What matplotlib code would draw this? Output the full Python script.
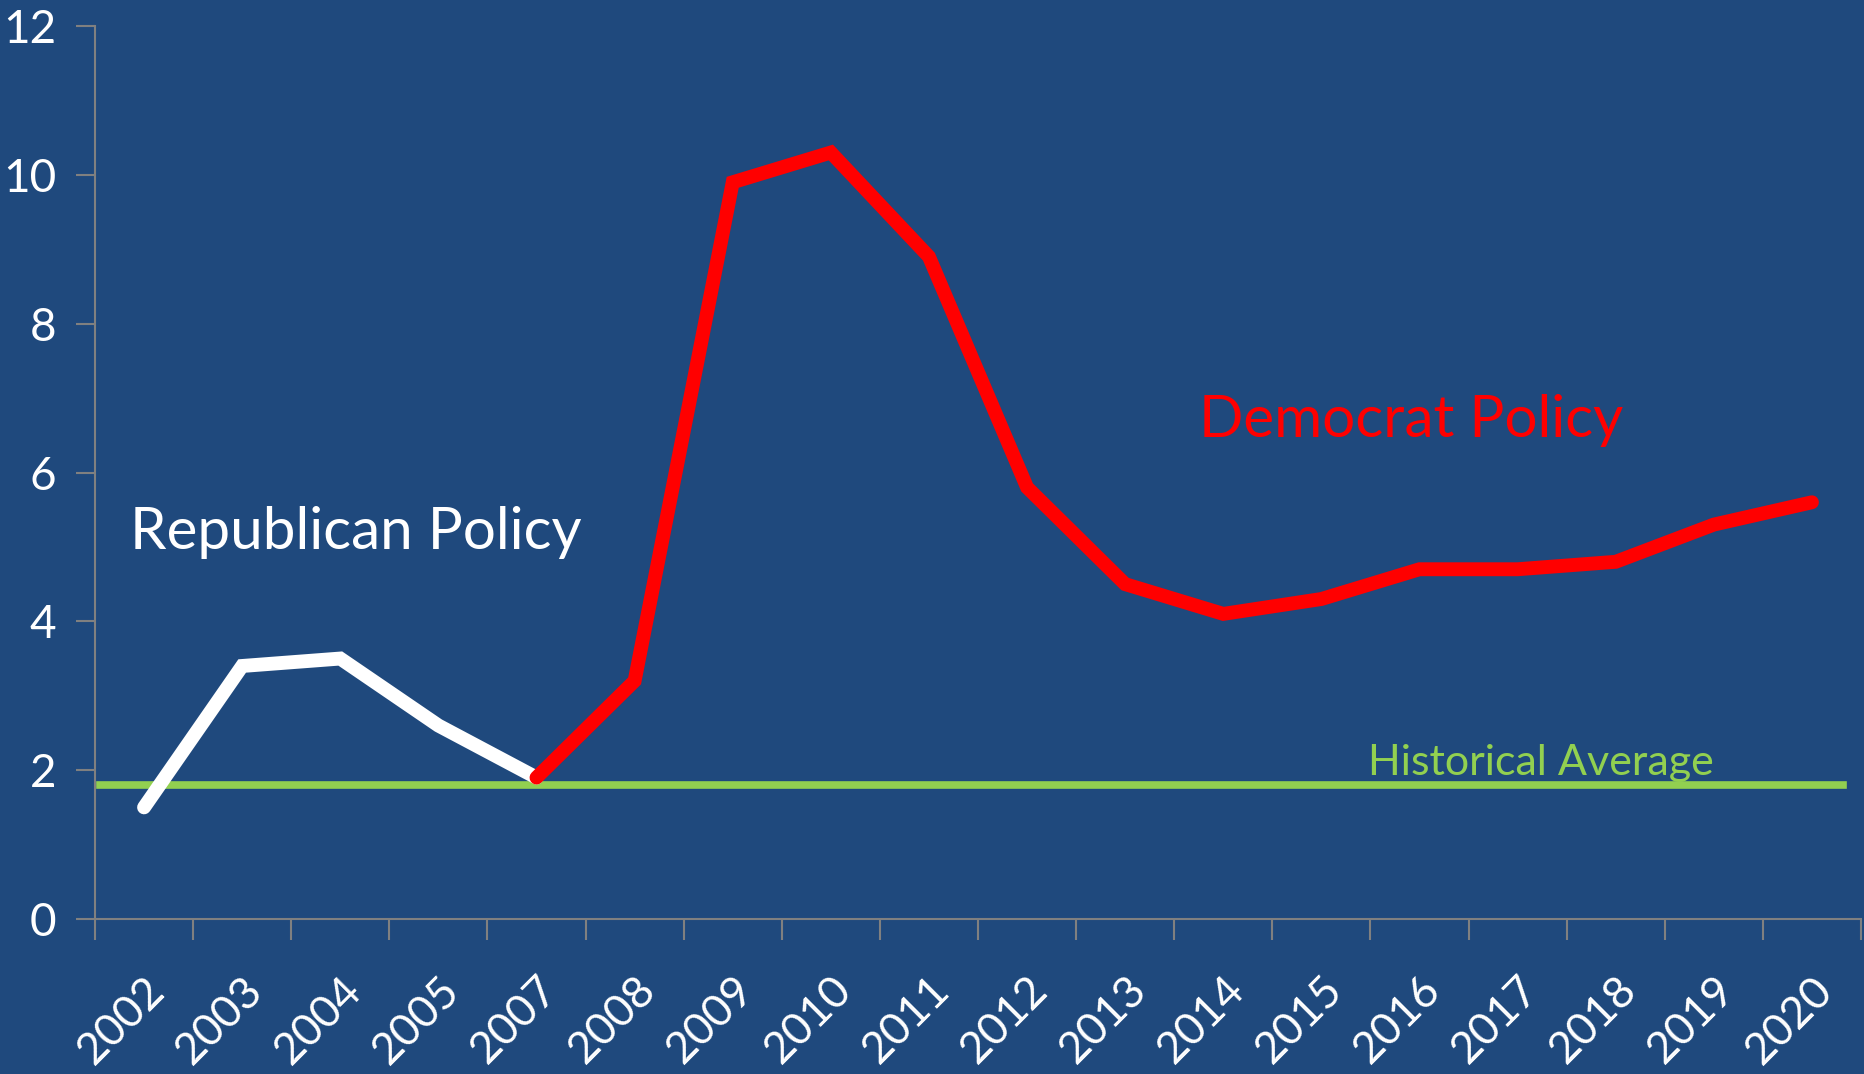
import matplotlib.pyplot as plt

# categories (no 2006 in the source chart)
years = ['2002', '2003', '2004', '2005', '2007', '2008', '2009', '2010', '2011',
         '2012', '2013', '2014', '2015', '2016', '2017', '2018', '2019', '2020']
republican = [1.5, 3.4, 3.5, 2.6, 1.9]
democrat = [1.9, 3.2, 9.9, 10.3, 8.9, 5.8, 4.5, 4.1, 4.3, 4.7, 4.7, 4.8, 5.3, 5.6]
hist_avg = 1.8
y_ticks = [0, 2, 4, 6, 8, 10, 12]

bg = '#1F497D'
plt.rcParams['font.family'] = ['Lato', 'DejaVu Sans']

fig = plt.figure(figsize=(18.65, 10.74), dpi=100, facecolor=bg)
ax = fig.add_axes([95 / 1865, 1 - 919 / 1074, (1861 - 95) / 1865, (919 - 26) / 1074])
ax.set_facecolor(bg)

x = list(range(len(years)))
ax.plot(x[:len(republican)], republican, color='white', lw=10,
        solid_capstyle='round', solid_joinstyle='miter', zorder=3)
ax.plot(x[len(republican) - 1:], democrat, color='#FF0000', lw=10,
        solid_capstyle='round', solid_joinstyle='miter', zorder=4)
ax.axhline(hist_avg, xmin=0.003, xmax=0.99, color='#92D050', lw=5.5, zorder=2)

ax.text(-0.14, 5.2, 'Republican Policy', color='white', fontsize=42, va='center')
ax.text(10.75, 6.7, 'Democrat Policy', color='#FF0000', fontsize=42, va='center')
ax.text(12.47, 2.1, 'Historical Average', color='#92D050', fontsize=31, va='center')

ax.set_xlim(-0.5, len(years) - 0.5)
ax.set_ylim(0, 12)
ax.set_yticks(y_ticks)
ax.set_yticklabels([str(v) for v in y_ticks])
ax.set_xticks([i - 0.5 for i in range(len(years) + 1)])
ax.set_xticklabels([])
ax.set_xticks(x, minor=True)
ax.set_xticklabels(years, minor=True, rotation=45, ha='right', va='top',
                   rotation_mode='anchor')

for s in ['top', 'right']:
    ax.spines[s].set_visible(False)
for s in ['left', 'bottom']:
    ax.spines[s].set_color('#808080')
    ax.spines[s].set_linewidth(1.5)

ax.tick_params(axis='y', colors='#808080', labelcolor='white', labelsize=33,
               length=14, width=1.5, pad=14)
ax.tick_params(axis='x', which='major', colors='#808080', length=15, width=1.5)
ax.tick_params(axis='x', which='minor', length=0, labelcolor='white',
               labelsize=32, pad=36)

fig.savefig('out.png', dpi=100, facecolor=bg)
